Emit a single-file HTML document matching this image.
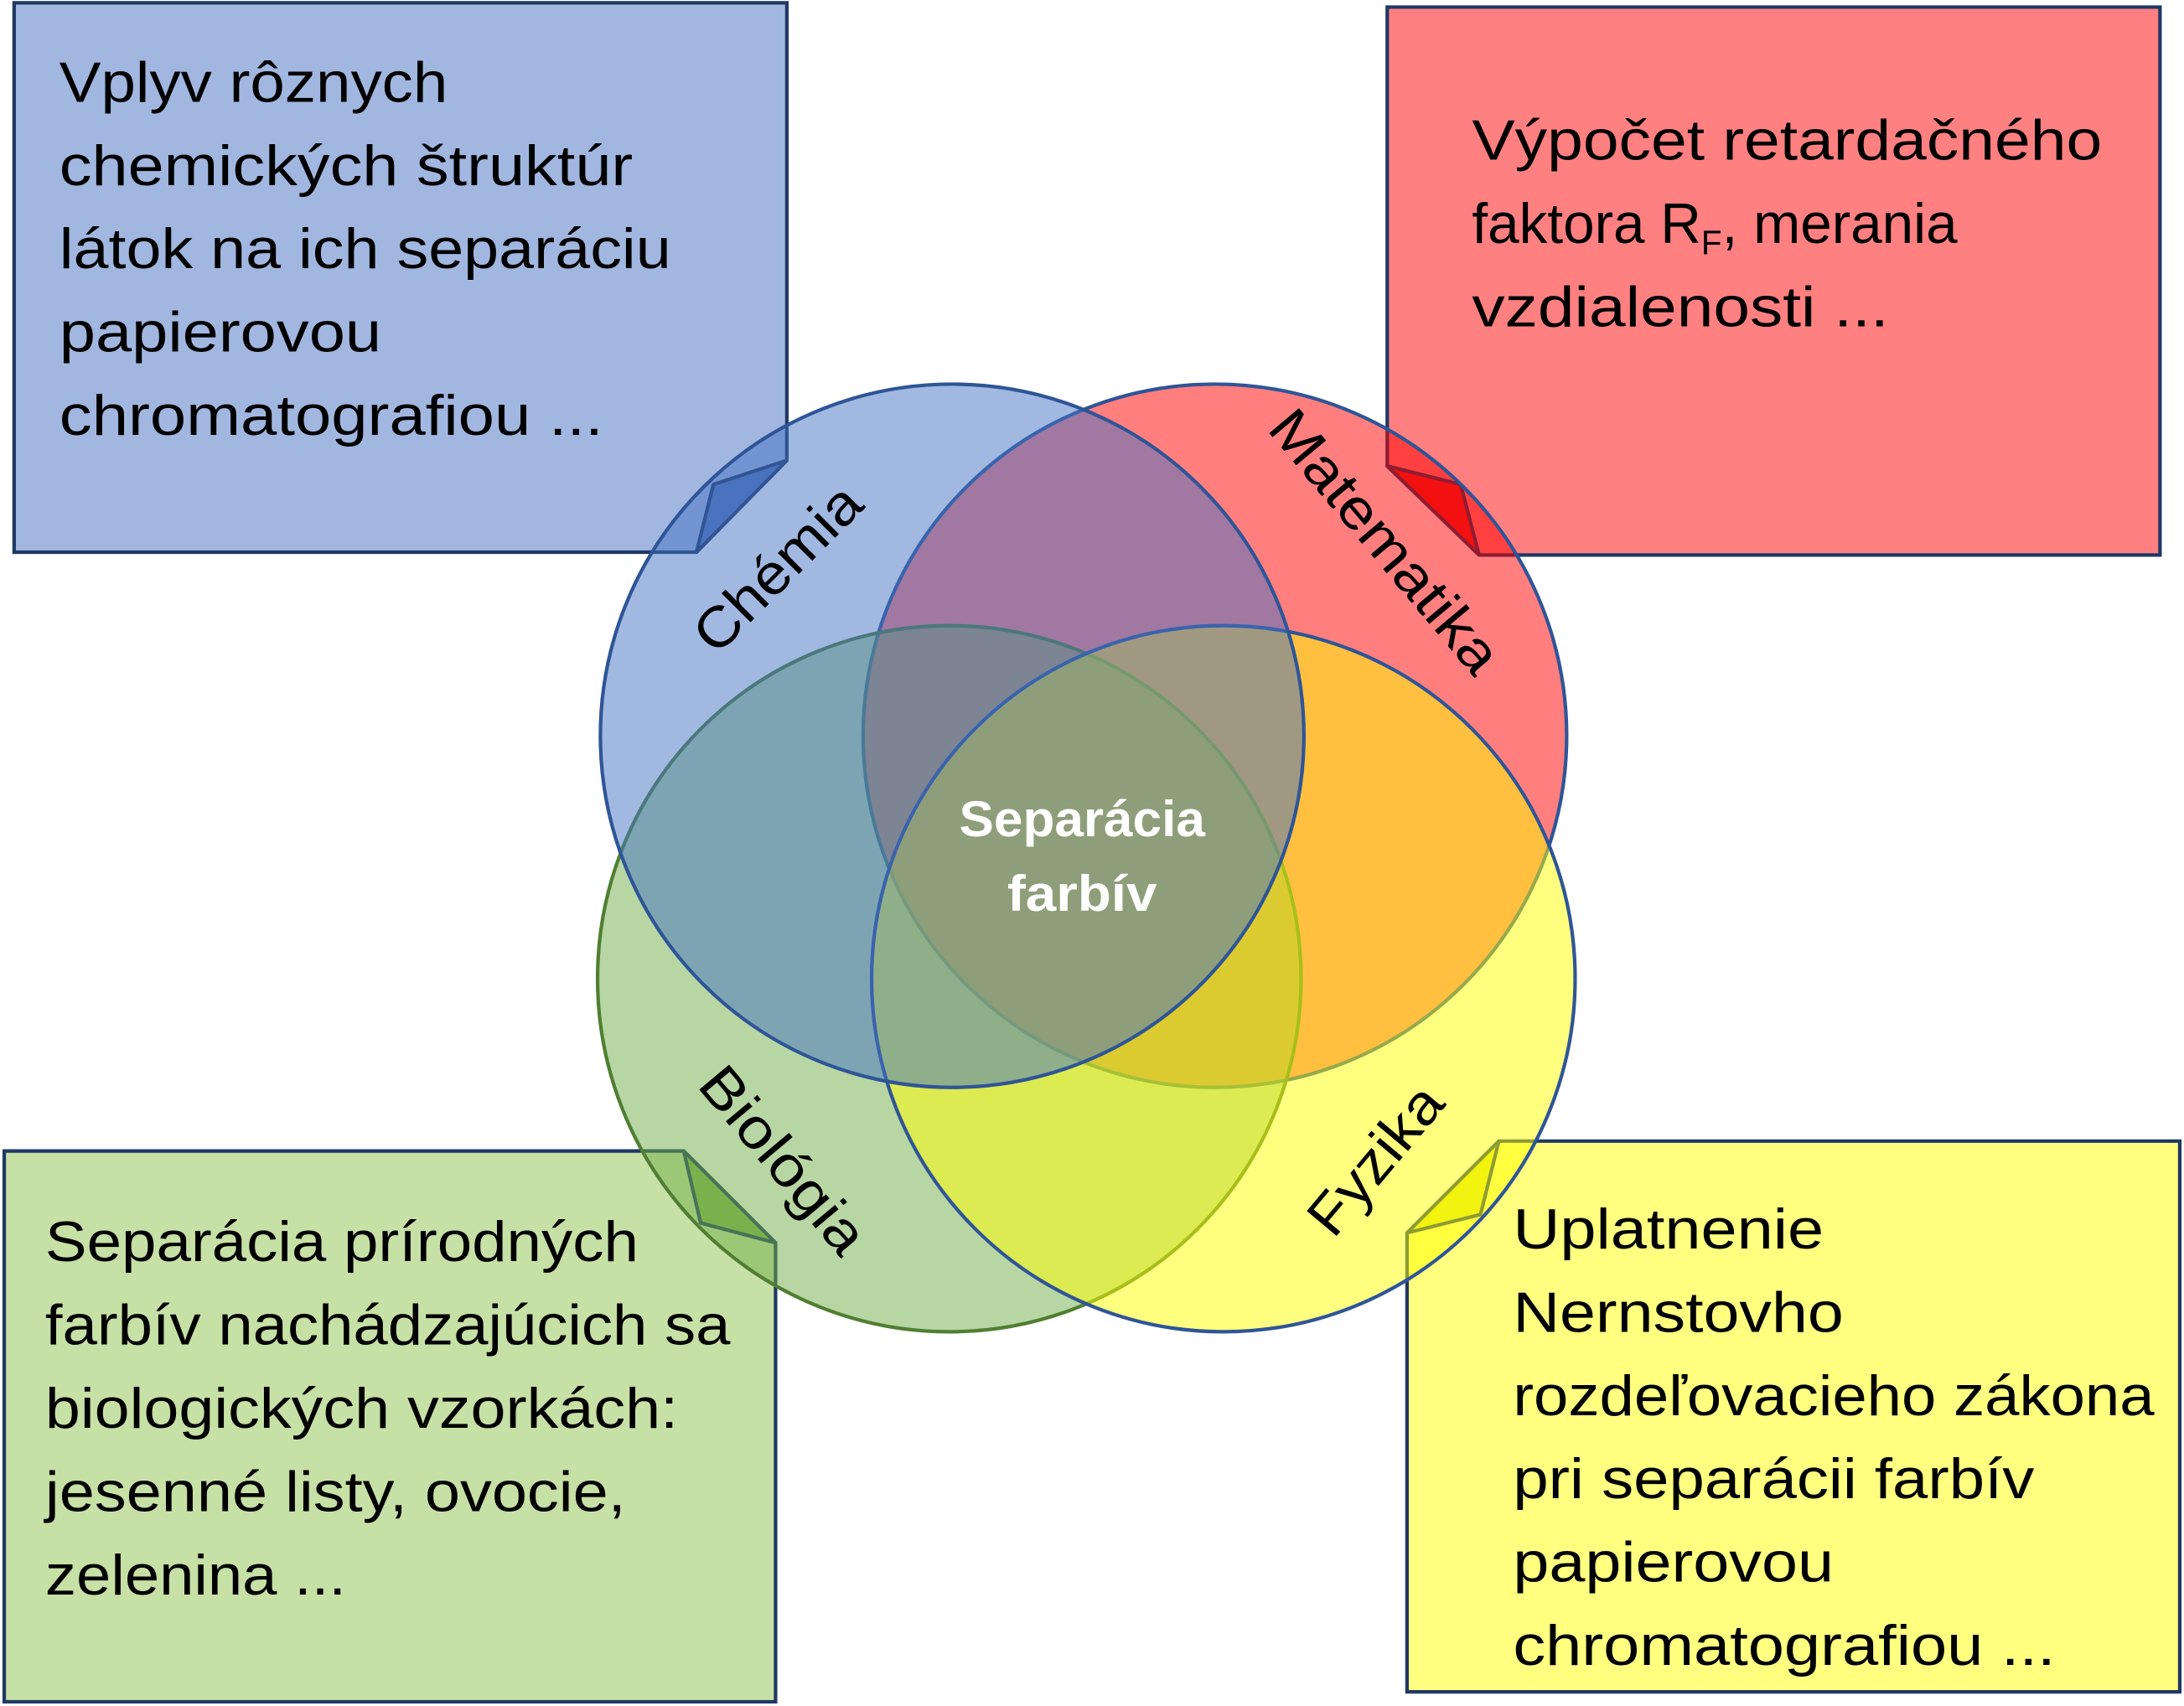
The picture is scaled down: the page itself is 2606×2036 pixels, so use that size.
<!DOCTYPE html>
<html><head><meta charset="utf-8"><style>html,body{margin:0;padding:0;background:#fff}svg{display:block}</style></head>
<body>
<svg width="2606" height="2036" viewBox="0 0 1546 1208" preserveAspectRatio="none" xmlns="http://www.w3.org/2000/svg" font-family="'Liberation Sans', sans-serif">
<!-- boxes -->
<polygon points="10,2 557,2 557,326 493,391 10,391" fill="#A1B7E0" stroke="#1F3864" stroke-width="2.5"/>
<polygon points="557,326 505,343 493,391" fill="#4F74B8" stroke="#1F3864" stroke-width="2.5" stroke-linejoin="round"/>
<polygon points="982,5 1529,5 1529,393 1047,393 982,330" fill="#FF8080" stroke="#1F3864" stroke-width="2.5"/>
<polygon points="982,330 1034,343 1047,393" fill="#E42020" stroke="#1F3864" stroke-width="2.5" stroke-linejoin="round"/>
<polygon points="484,815 549,880 549,1205 3,1205 3,815" fill="#C6E0A6" stroke="#1F3864" stroke-width="2.5"/>
<polygon points="484,815 496,866 549,880" fill="#86B553" stroke="#1F3864" stroke-width="2.5" stroke-linejoin="round"/>
<polygon points="1061,808 1543,808 1543,1198 996,1198 996,873" fill="#FFFF80" stroke="#1F3864" stroke-width="2.5"/>
<polygon points="1061,808 1048,860 996,873" fill="#E6E620" stroke="#1F3864" stroke-width="2.5" stroke-linejoin="round"/>
<!-- circles -->
<g stroke-width="2.5">
<ellipse cx="860" cy="521" rx="249" ry="249" fill="#FF0000" fill-opacity="0.5" stroke="#2F5597"/>
<ellipse cx="672" cy="693" rx="249" ry="250" fill="#70AD47" fill-opacity="0.5" stroke="#507E32"/>
<ellipse cx="866" cy="693" rx="249" ry="250" fill="#FFFF00" fill-opacity="0.5" stroke="#2F5597"/>
<ellipse cx="674" cy="521" rx="249" ry="249" fill="#4472C4" fill-opacity="0.5" stroke="#2F5597"/>
</g>
<!-- circle labels -->
<g font-size="40" fill="#000">
<text x="0" y="0" text-anchor="middle" transform="translate(560,412) rotate(-45)" textLength="150" lengthAdjust="spacingAndGlyphs">Chémia</text>
<text x="0" y="0" text-anchor="middle" transform="translate(970,392) rotate(50)" textLength="230" lengthAdjust="spacingAndGlyphs">Matematika</text>
<text x="0" y="0" text-anchor="middle" transform="translate(544,830) rotate(50)" textLength="160" lengthAdjust="spacingAndGlyphs">Biológia</text>
<text x="0" y="0" text-anchor="middle" transform="translate(984,830) rotate(-50)" textLength="125" lengthAdjust="spacingAndGlyphs">Fyzika</text>
</g>
<g font-size="36" font-weight="bold" fill="#fff" text-anchor="middle">
<text x="766" y="592" textLength="174" lengthAdjust="spacingAndGlyphs">Separácia</text>
<text x="766" y="645" textLength="106" lengthAdjust="spacingAndGlyphs">farbív</text>
</g>
<!-- box texts -->
<g font-size="40" fill="#000">
<text x="42" y="72" textLength="275" lengthAdjust="spacingAndGlyphs">Vplyv rôznych</text>
<text x="42" y="131" textLength="406" lengthAdjust="spacingAndGlyphs">chemických štruktúr</text>
<text x="42" y="190" textLength="433" lengthAdjust="spacingAndGlyphs">látok na ich separáciu</text>
<text x="42" y="249" textLength="228" lengthAdjust="spacingAndGlyphs">papierovou</text>
<text x="42" y="308" textLength="385" lengthAdjust="spacingAndGlyphs">chromatografiou ...</text>

<text x="1042" y="113" textLength="446" lengthAdjust="spacingAndGlyphs">Výpočet retardačného</text>
<text x="1042" y="172">faktora R<tspan font-size="24" dy="8">F</tspan><tspan dy="-8">, merania</tspan></text>
<text x="1042" y="231" textLength="295" lengthAdjust="spacingAndGlyphs">vzdialenosti  ...</text>

<text x="32" y="893" textLength="420" lengthAdjust="spacingAndGlyphs">Separácia prírodných</text>
<text x="32" y="952" textLength="485" lengthAdjust="spacingAndGlyphs">farbív nachádzajúcich sa</text>
<text x="32" y="1011" textLength="448" lengthAdjust="spacingAndGlyphs">biologických vzorkách:</text>
<text x="32" y="1070" textLength="411" lengthAdjust="spacingAndGlyphs">jesenné listy, ovocie,</text>
<text x="32" y="1129" textLength="213" lengthAdjust="spacingAndGlyphs">zelenina ...</text>

<text x="1071" y="884" textLength="220" lengthAdjust="spacingAndGlyphs">Uplatnenie</text>
<text x="1071" y="943" textLength="234" lengthAdjust="spacingAndGlyphs">Nernstovho</text>
<text x="1071" y="1002" textLength="454" lengthAdjust="spacingAndGlyphs">rozdeľovacieho zákona</text>
<text x="1071" y="1061" textLength="369" lengthAdjust="spacingAndGlyphs">pri separácii farbív</text>
<text x="1071" y="1120" textLength="227" lengthAdjust="spacingAndGlyphs">papierovou</text>
<text x="1071" y="1179" textLength="384" lengthAdjust="spacingAndGlyphs">chromatografiou ...</text>
</g>
</svg>
</body></html>
